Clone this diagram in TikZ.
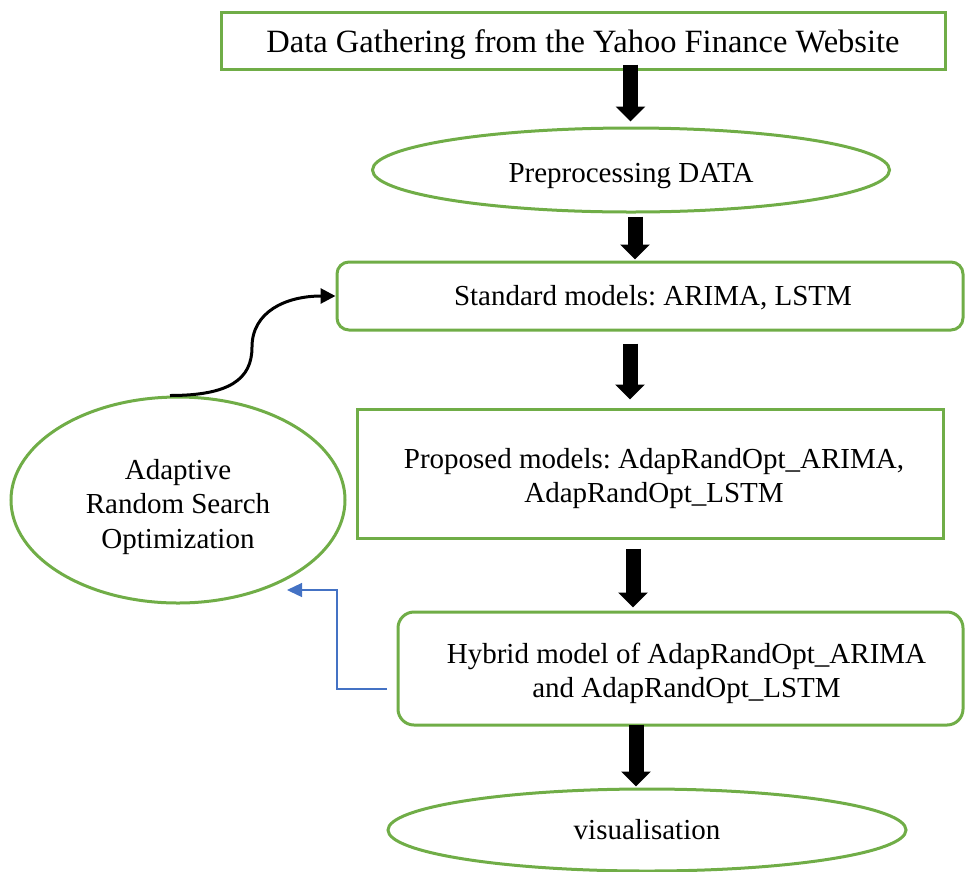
\documentclass[tikz,border=0pt]{standalone}
\usepackage{fontspec}
\setmainfont{Liberation Serif}
\frenchspacing
\usetikzlibrary{shapes.geometric,arrows.meta,calc}
\definecolor{grn}{HTML}{70AD47}
\definecolor{blu}{HTML}{4472C4}
% #1 = twice the horizontal shift, #2 = downward shift, #3 = text
\newcommand\mvtxt[3]{\hspace*{#1}\raisebox{-#2}[\height][\depth]{\begin{tabular}{@{}c@{}}#3\end{tabular}}}
\begin{document}
\begin{tikzpicture}[x=1pt,y=-1pt,
 every node/.style={font=\fontsize{29}{34}\selectfont, align=center, inner sep=0pt},
 gbox/.style={draw=grn, line width=3pt, rectangle},
 gell/.style={draw=grn, line width=3pt, ellipse},
 blk/.style={line width=15pt, black, -{Triangle[length=15pt,width=29pt]}},
 curv/.style={line width=3pt, black, -{Triangle[length=15pt,width=15pt]}},
 bluarr/.style={line width=1.3pt, blu, -{Triangle[length=15pt,width=14pt]}}]
\useasboundingbox (0,0) rectangle (965,871);

\node[gbox, minimum width=724pt, minimum height=57pt, font=\fontsize{32.5}{38}\selectfont] (b1) at (583,40.5) {\mvtxt{0pt}{4pt}{Data Gathering from the Yahoo Finance Website}};
\node[gell, minimum width=517pt, minimum height=84pt] (e2) at (631,170) {\mvtxt{0pt}{6pt}{Preprocessing DATA}};
\node[gbox, rounded corners=12pt, minimum width=626pt, minimum height=68pt] (b3) at (650,296) {\mvtxt{6pt}{3pt}{Standard models: ARIMA, LSTM}};
\node[gbox, minimum width=586pt, minimum height=129pt] (b4) at (650,473.5) {\mvtxt{8pt}{5pt}{Proposed models: AdapRandOpt\_ARIMA,\\AdapRandOpt\_LSTM}};
\node[gbox, rounded corners=16pt, minimum width=565pt, minimum height=113pt] (b5) at (680.5,668.5) {\mvtxt{12pt}{5pt}{Hybrid model of AdapRandOpt\_ARIMA\\and AdapRandOpt\_LSTM}};
\node[gell, minimum width=518pt, minimum height=82pt] (e6) at (647,830) {\mvtxt{0pt}{3pt}{visualisation}};
\node[gell, minimum width=334pt, minimum height=206pt, font=\fontsize{29}{34.5}\selectfont] (le) at (178,500) {\mvtxt{0pt}{7pt}{Adaptive\\Random Search\\Optimization}};

% block arrows
\draw[blk] ($(b1.south)+(47.5,-6)$) -- ($(e2.north)+(-0.5,-5)$);
\draw[blk] ($(e2.south)+(4,3)$) -- ($(b3.north)+(-15,-1)$);
\draw[blk] ($(b3.south)+(-20,12)$) -- ($(b4.north)+(-20,-8)$);
\draw[blk] ($(b4.south)+(-17,9)$) -- ($(b5.north)+(-47.5,-3)$);
\draw[blk] ($(b5.south)+(-44.5,-2)$) -- ($(e6.north)+(-11,-1)$);

% curved arrow
\draw[curv] ([xshift=-8pt]le.north) .. controls +(60,0) and +(0,32) .. (252,347)
  .. controls +(0,-35) and +(-50,0) .. (b3.west);

% blue connector
\coordinate (bs) at (387,689);
\coordinate (be) at (287,590);
\draw[bluarr] (bs) -- (337,689) |- (be);
\end{tikzpicture}
\end{document}
